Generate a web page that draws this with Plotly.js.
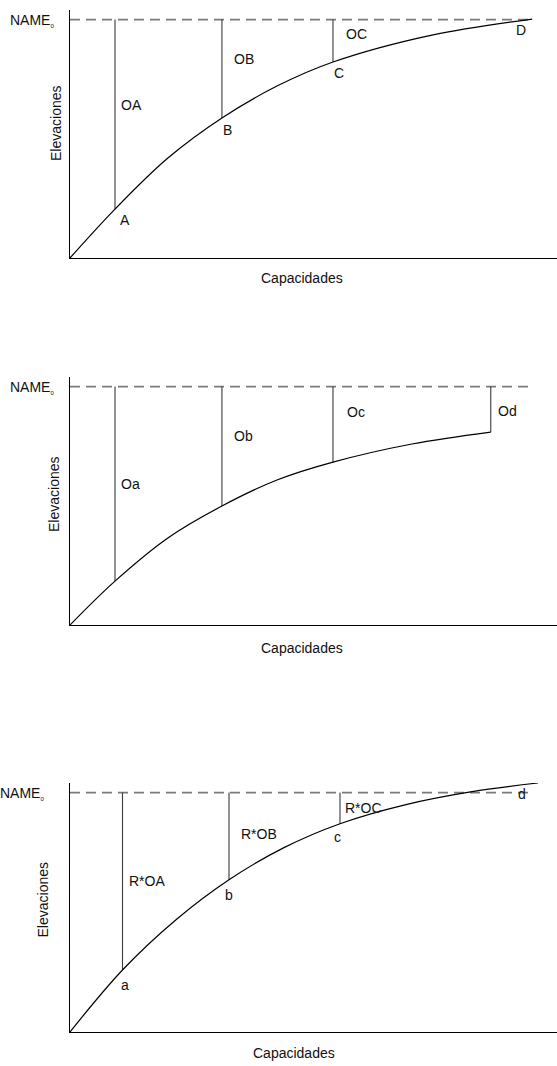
<!DOCTYPE html>
<html>
<head>
<meta charset="utf-8">
<script src="https://cdn.plot.ly/plotly-3.0.1.min.js"></script>
<style>
  html, body { margin: 0; padding: 0; background: #fff; }
  #chart { width: 557px; height: 1066px; }
</style>
</head>
<body>
<div id="chart"></div>
<script>
// ---------------- DATA ----------------
const nameLevel = 100;                 // NAME0 elevation
const xAxisTitle = "Capacidades";
const yAxisTitle = "Elevaciones";
const nameLabel = "NAME<sub><span style='font-size:6px'>0</span></sub>";

// Panel 1: original elevation-capacity curve
const capTop  = [0, 9.24, 20.1, 31.2, 42.5, 54.0, 74.3, 94.9];
const elevTop = [0, 20.5, 41.9, 58.7, 72.1, 82.2, 93.5, 100.2];
const ptsTopIdx = [1, 3, 5];           // A, B, C on the curve
const ptsTopLbl = ["A", "B", "C"];
const segTopLbl = ["OA", "OB", "OC"];
const endTopLbl = "D";

// Panel 2: reduced curve
const capMid  = [0, 9.24, 20.1, 31.2, 42.5, 54.0, 70.2, 86.4];
const elevMid = [0, 18.4, 36.5, 49.9, 60.8, 68.3, 75.9, 80.9];
const ptsMidIdx = [1, 3, 5, 7];
const segMidLbl = ["Oa", "Ob", "Oc", "Od"];

// Panel 3: corrected curve
const capBot  = [0, 10.78, 21.77, 32.65, 43.94, 55.44, 68.99, 82.55, 96.1];
const elevBot = [0, 25.9, 46.9, 63.6, 77.0, 87.0, 95.0, 100.4, 104.0];
const ptsBotIdx = [1, 3, 5];
const ptsBotLbl = ["a", "b", "c"];
const segBotLbl = ["R*OA", "R*OB", "R*OC"];
const endBotLbl = "d";

const nameLineEnd = 94.8;              // capacity where the NAME0 dashed line stops

// ---------------- STYLE ----------------
const FONT = "Liberation Sans, Arial, sans-serif";
const txtFont = {family: FONT, size: 14, color: "#111"};
const W = 557, H = 1066;
const xDomain = [70 / W, 1];
const panels = [
  {top: 10,  bottom: 258},
  {top: 377, bottom: 625},
  {top: 783, bottom: 1032}
];

const traces = [];
const annotations = [];
const layout = {
  width: W, height: H,
  margin: {l: 0, r: 0, t: 0, b: 0},
  paper_bgcolor: "#fff", plot_bgcolor: "#fff",
  showlegend: false,
  font: txtFont,
  annotations: annotations
};

function addPanel(k, cap, elev, idx, segLbl, ptLbl, endLbl, segShift, ptShift, endShift, deco) {
  const n = k === 0 ? "" : String(k + 1);
  const xa = "x" + n, ya = "y" + n;
  const p = panels[k];
  layout["xaxis" + n] = {
    domain: xDomain, anchor: ya, range: [0, 100],
    showline: true, linecolor: "#000", linewidth: 1.2,
    showgrid: false, zeroline: false, showticklabels: false, ticks: "",
    fixedrange: true
  };
  layout["yaxis" + n] = {
    domain: [1 - p.bottom / H, 1 - p.top / H], anchor: xa, range: [0, 104],
    showline: true, linecolor: "#000", linewidth: 1.2,
    showgrid: false, zeroline: false, showticklabels: false, ticks: "",
    fixedrange: true
  };
  // NAME0 dashed line
  traces.push({
    type: "scatter", mode: "lines", xaxis: xa, yaxis: ya,
    x: [0, nameLineEnd], y: [nameLevel, nameLevel],
    line: {color: "#7a7a7a", width: 1.8, dash: "10px,6px"}, hoverinfo: "skip"
  });
  // verticals
  idx.forEach((i, j) => {
    traces.push({
      type: "scatter", mode: "lines", xaxis: xa, yaxis: ya,
      x: [cap[i], cap[i]], y: [elev[i], nameLevel],
      line: {color: "#3a3a3a", width: 1.1}, hoverinfo: "skip"
    });
    annotations.push({
      xref: xa, yref: ya, x: cap[i], y: (elev[i] + nameLevel) / 2,
      text: segLbl[j], showarrow: false, xanchor: "left", yanchor: "middle",
      xshift: segShift[j][0], yshift: segShift[j][1], font: txtFont
    });
    if (ptLbl && ptLbl[j]) {
      annotations.push({
        xref: xa, yref: ya, x: cap[i], y: elev[i],
        text: ptLbl[j], showarrow: false, xanchor: "center", yanchor: "middle",
        xshift: ptShift[j][0], yshift: ptShift[j][1], font: txtFont
      });
    }
  });
  // curve
  traces.push({
    type: "scatter", mode: "lines", xaxis: xa, yaxis: ya,
    x: cap, y: elev, line: {color: "#000", width: 1.2, shape: "spline", smoothing: 1},
    hoverinfo: "skip"
  });
  if (endLbl) {
    annotations.push({
      xref: xa, yref: ya, x: nameLineEnd, y: nameLevel,
      text: endLbl, showarrow: false, xanchor: "center", yanchor: "middle",
      xshift: endShift[0], yshift: endShift[1], font: txtFont
    });
  }
  // NAME0 label
  annotations.push({
    xref: "paper", yref: ya, x: xDomain[0], y: nameLevel,
    text: nameLabel, showarrow: false, xanchor: "right", yanchor: "middle",
    xshift: deco.nameX, yshift: -1, font: txtFont
  });
  // axis titles
  annotations.push({
    xref: "paper", yref: ya + " domain", x: xDomain[0], y: 0.5,
    text: yAxisTitle, textangle: -90, showarrow: false,
    xanchor: "center", yanchor: "middle",
    xshift: deco.yTitleX, yshift: deco.yTitleY, font: txtFont
  });
  annotations.push({
    xref: xa + " domain", yref: ya + " domain", x: 0.5, y: 0,
    text: xAxisTitle, showarrow: false, xanchor: "center", yanchor: "middle",
    xshift: deco.xTitleX, yshift: deco.xTitleY, font: txtFont
  });
}

addPanel(0, capTop, elevTop, ptsTopIdx, segTopLbl, ptsTopLbl, endTopLbl,
  [[4, 9], [10, 10], [11, 7]], [[10, -11], [6, -12], [6, -11]], [-11, -10],
  {nameX: -14, yTitleX: -14, yTitleY: 11, xTitleX: -11.5, xTitleY: -20});
addPanel(1, capMid, elevMid, ptsMidIdx, segMidLbl, null, null,
  [[4, 0], [10, 10], [12, 12], [5, -2]], null, null,
  {nameX: -14, yTitleX: -16, yTitleY: 7, xTitleX: -11.5, xTitleY: -23});
addPanel(2, capBot, elevBot, ptsBotIdx, segBotLbl, ptsBotLbl, endBotLbl,
  [[4, 0], [10, 2], [3, 0]], [[2, -15], [0, -15], [-2, -13]], [-10, -1],
  {nameX: -24, yTitleX: -28, yTitleY: 8, xTitleX: -19.5, xTitleY: -21});

Plotly.newPlot("chart", traces, layout, {displayModeBar: false, staticPlot: true});
</script>
</body>
</html>
